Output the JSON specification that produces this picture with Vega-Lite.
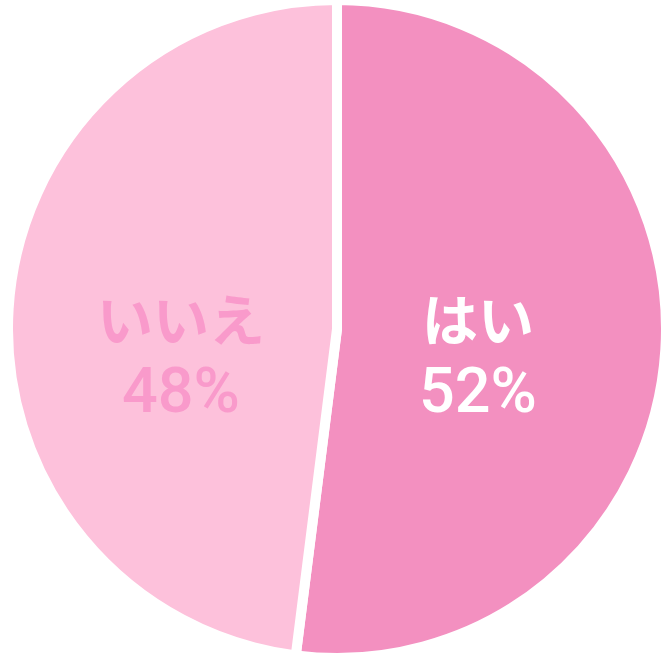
{
  "$schema": "https://vega.github.io/schema/vega-lite/v6.json",
  "width": 658,
  "height": 658,
  "autosize": {"type": "none"},
  "padding": {"left": 8, "top": 0, "right": 4, "bottom": 12},
  "background": "white",
  "config": {"view": {"stroke": null}},
  "data": {
    "values": [
      {"answer": "はい", "share": 0.52, "rank": 1},
      {"answer": "いいえ", "share": 0.48, "rank": 2}
    ]
  },
  "encoding": {
    "theta": {"field": "share", "type": "quantitative", "stack": true},
    "order": {"field": "rank", "type": "ordinal"}
  },
  "layer": [
    {
      "mark": {"type": "arc", "outerRadius": 329, "stroke": "white", "strokeWidth": 10, "strokeJoin": "miter"},
      "encoding": {
        "color": {
          "field": "answer",
          "type": "nominal",
          "scale": {"domain": ["はい", "いいえ"], "range": ["#F390C0", "#FDC1DB"]},
          "legend": null
        }
      }
    },
    {
      "mark": {
        "type": "text",
        "radius": 148.5,
        "thetaOffset": -0.0628,
        "dx": -7.5,
        "dy": -5,
        "font": "Noto Sans CJK JP",
        "fontWeight": "bold",
        "fontSize": 56
      },
      "encoding": {
        "detail": {"field": "answer"},
        "text": {"field": "answer"},
        "color": {
          "condition": {"test": "datum.answer === 'はい'", "value": "white"},
          "value": "#F99ACB"
        }
      }
    },
    {
      "mark": {
        "type": "text",
        "radius": 148.5,
        "thetaOffset": -0.0628,
        "dx": -7.5,
        "dy": 64,
        "font": "Roboto",
        "fontWeight": 500,
        "fontSize": 63
      },
      "encoding": {
        "detail": {"field": "answer"},
        "text": {"field": "share", "type": "quantitative", "format": ".0%"},
        "color": {
          "condition": {"test": "datum.answer === 'はい'", "value": "white"},
          "value": "#F99ACB"
        }
      }
    }
  ]
}
